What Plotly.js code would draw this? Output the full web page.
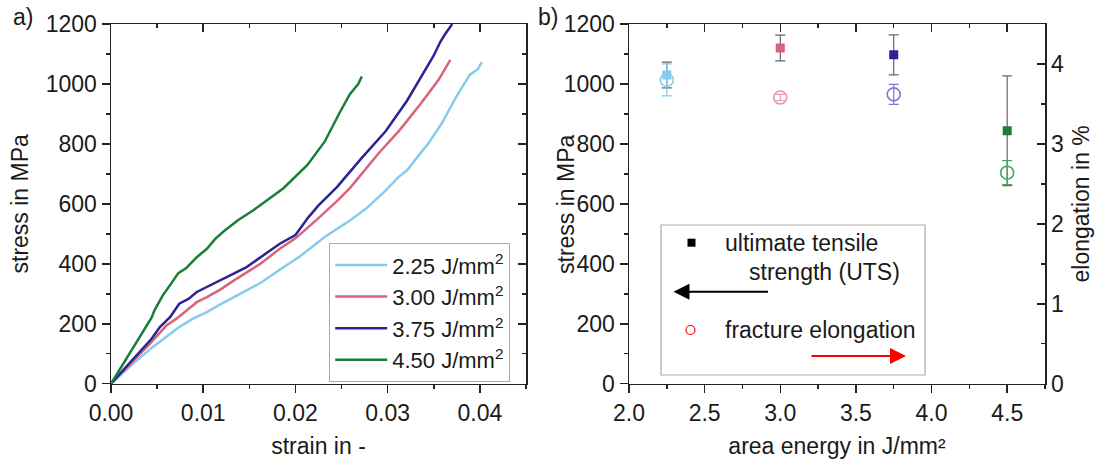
<!DOCTYPE html>
<html>
<head>
<meta charset="utf-8">
<script src="https://cdn.plot.ly/plotly-3.0.1.min.js"></script>
<style>html,body{margin:0;padding:0;background:#fff}#chart{width:1104px;height:459px}</style>
</head>
<body>
<div id="chart"></div>
<script>
// ---- (a) stress-strain curves ----
const strain225 = [0,0.0024,0.0045,0.0060,0.0074,0.0089,0.0104,0.0118,0.0133,0.0147,0.0162,0.0183,0.0205,0.0232,0.0258,0.0277,0.0298,0.0312,0.0321,0.0332,0.0344,0.0359,0.0374,0.0389,0.0398,0.0402];
const stress225 = [0,67,122,158,189,217,239,264,289,313,336,380,425,490,542,585,645,690,712,755,801,870,955,1030,1050,1073];
const strain300 = [0,0.0042,0.0060,0.0071,0.0082,0.0093,0.0104,0.0118,0.0133,0.0147,0.0162,0.0183,0.0200,0.0222,0.0247,0.0260,0.0290,0.0313,0.0336,0.0355,0.0362,0.0368];
const stress300 = [0,133,194,217,244,272,289,313,344,372,400,450,485,544,615,656,768,846,935,1013,1050,1080];
const strain375 = [0,0.0044,0.0053,0.0064,0.0074,0.0084,0.0093,0.0104,0.0118,0.0133,0.0147,0.0162,0.0183,0.0200,0.0214,0.0225,0.0245,0.0271,0.0298,0.0321,0.0343,0.0350,0.0357,0.0362,0.0370];
const stress375 = [0,150,189,222,267,283,306,322,344,367,389,422,467,496,555,595,656,750,843,944,1056,1095,1140,1165,1200];
const strain450 = [0,0.0044,0.0047,0.0056,0.0065,0.0073,0.0082,0.0093,0.0104,0.0113,0.0123,0.0138,0.0154,0.0187,0.0213,0.0232,0.0247,0.0259,0.0268,0.0272];
const stress450 = [0,220,244,294,333,369,387,422,450,483,510,546,578,652,730,809,899,966,1000,1025];
const curveNames = ['2.25 J/mm<sup>2</sup>','3.00 J/mm<sup>2</sup>','3.75 J/mm<sup>2</sup>','4.50 J/mm<sup>2</sup>'];

// ---- (b) UTS and fracture elongation ----
const energy = [2.25, 3.00, 3.75, 4.50];
const uts = [1030, 1120, 1097, 844];
const utsErr = [43, 43, 67, 183];
const elong = [3.80, 3.58, 3.62, 2.64];
const elongErr = [0.20, 0.04, 0.125, 0.15];

const lineColors = ['#86cbee','#d6647a','#2c2492','#1b7d3a'];
const sqColors = ['#86cbee','#d6647a','#2c2492','#1b7d3a'];
const circColors = ['#86cbee','#e596a3','#7e76d2','#46a463'];

const FONT = 'Liberation Sans, Arial, sans-serif';
const FS = 23;
const curves = [[strain225,stress225],[strain300,stress300],[strain375,stress375],[strain450,stress450]];
const traces = [];
curves.forEach((c,i)=>{
  traces.push({x:c[0], y:c[1], type:'scatter', mode:'lines', name:curveNames[i],
    line:{color:lineColors[i], width:2.5}, xaxis:'x', yaxis:'y'});
});
traces.push({x:[], y:[], type:'scatter', xaxis:'x3', yaxis:'y', showlegend:false});
traces.push({x:[], y:[], type:'scatter', xaxis:'x', yaxis:'y3', showlegend:false});
traces.push({x:[], y:[], type:'scatter', xaxis:'x4', yaxis:'y2', showlegend:false});

energy.forEach((e,i)=>{
  traces.push({x:[e], y:[elong[i]], type:'scatter', mode:'markers', showlegend:false,
    xaxis:'x2', yaxis:'y4',
    marker:{symbol:'circle-open', size:13, color:circColors[i], line:{width:1.6, color:circColors[i]}},
    error_y:{type:'data', array:[elongErr[i]], visible:true, color:circColors[i], thickness:1.2, width:5}});
});
energy.forEach((e,i)=>{
  traces.push({x:[e], y:[uts[i]], type:'scatter', mode:'markers', showlegend:false,
    xaxis:'x2', yaxis:'y2',
    marker:{symbol:'square', size:9, color:sqColors[i]},
    error_y:{type:'data', array:[utsErr[i]], visible:true, color:'#666', thickness:1.2, width:5}});
});

const tickFont = {family:FONT, size:FS, color:'#1a1a1a'};
const titleFont = {family:FONT, size:FS, color:'#1a1a1a'};
const axBase = {showgrid:false, zeroline:false, showline:true, linecolor:'#222', linewidth:1.5,
  ticks:'outside', ticklen:8, tickwidth:1.5, tickcolor:'#222', tickfont:tickFont, mirror:true,
  automargin:false};
const yDom = [1-383.7/459, 1-24/459];
const xDomA = [111/1104, 526/1104];
const xDomB = [629/1104, 1045/1104];
const P = (px)=>px/1104, Q = (py)=>1-py/459;

const layout = {
  width:1104, height:459, margin:{l:0,r:0,t:0,b:0}, paper_bgcolor:'#fff', plot_bgcolor:'rgba(0,0,0,0)',
  font:{family:FONT, size:FS, color:'#1a1a1a'},
  showlegend:true,
  legend:{x:P(329), y:Q(243), xanchor:'left', yanchor:'top', bgcolor:'#fff',
    bordercolor:'#aaa', borderwidth:1.2, font:{family:FONT, size:22, color:'#1a1a1a'},
    tracegroupgap:0, itemwidth:52},
  xaxis: Object.assign({}, axBase, {domain:xDomA, range:[0,0.045], dtick:0.01, tick0:0, tickformat:'.2f',
    minor:{dtick:0.005, ticklen:4, ticks:'outside', tickcolor:'#222', tickwidth:1.5},
    anchor:'y', title:{text:'strain in -', font:titleFont, standoff:20}}),
  yaxis: Object.assign({}, axBase, {domain:yDom, range:[0,1200], dtick:200, tick0:0,
    minor:{dtick:100, ticklen:4, ticks:'outside', tickcolor:'#222', tickwidth:1.5},
    anchor:'x', title:{text:'stress in MPa', font:titleFont, standoff:10}}),
  xaxis3: {overlaying:'x', side:'top', anchor:'y', range:[0,0.045], dtick:0.01, tick0:0, showgrid:false, zeroline:false,
    ticks:'inside', ticklen:8, tickwidth:1.5, tickcolor:'#222', showticklabels:false, showline:false,
    minor:{dtick:0.005, ticklen:4, ticks:'inside', tickcolor:'#222', tickwidth:1.5}},
  yaxis3: {overlaying:'y', side:'right', anchor:'x', range:[0,1200], dtick:200, tick0:0, showgrid:false, zeroline:false,
    ticks:'inside', ticklen:8, tickwidth:1.5, tickcolor:'#222', showticklabels:false, showline:false,
    minor:{dtick:100, ticklen:4, ticks:'inside', tickcolor:'#222', tickwidth:1.5}},
  xaxis2: Object.assign({}, axBase, {domain:xDomB, range:[2.0,4.75], dtick:0.5, tick0:2, tickformat:'.1f',
    minor:{dtick:0.25, ticklen:4, ticks:'outside', tickcolor:'#222', tickwidth:1.5},
    anchor:'y2', title:{text:'area energy in J/mm²', font:titleFont, standoff:20}}),
  yaxis2: Object.assign({}, axBase, {domain:yDom, range:[0,1200], dtick:200, tick0:0, mirror:false,
    minor:{dtick:100, ticklen:4, ticks:'outside', tickcolor:'#222', tickwidth:1.5},
    anchor:'x2'}),
  xaxis4: {overlaying:'x2', side:'top', anchor:'y2', range:[2.0,4.75], dtick:0.5, tick0:2, showgrid:false, zeroline:false,
    ticks:'inside', ticklen:8, tickwidth:1.5, tickcolor:'#222', showticklabels:false, showline:true, linecolor:'#222', linewidth:1.5,
    minor:{dtick:0.25, ticklen:4, ticks:'inside', tickcolor:'#222', tickwidth:1.5}},
  yaxis4: Object.assign({}, axBase, {overlaying:'y2', side:'right', anchor:'x2', range:[0,4.5], dtick:1, tick0:0,
    ticks:'inside', mirror:false,
    minor:{dtick:0.5, ticklen:4, ticks:'inside', tickcolor:'#222', tickwidth:1.5},
    title:{text:'elongation in %', font:titleFont, standoff:10}}),
  shapes:[
    {type:'rect', xref:'paper', yref:'paper', x0:P(661), x1:P(925), y0:Q(375), y1:Q(225),
      line:{color:'#aaa', width:1.2}, fillcolor:'rgba(255,255,255,0)'},
    {type:'rect', xref:'paper', yref:'paper', x0:P(687.5), x1:P(695.5), y0:Q(246.7), y1:Q(238.7),
      line:{color:'#000', width:0}, fillcolor:'#000'},
    {type:'circle', xref:'paper', yref:'paper', x0:P(686), x1:P(695), y0:Q(334.5), y1:Q(325.5),
      line:{color:'#f00', width:1.2}}
  ],
  annotations:[
    {text:'a)', xref:'paper', yref:'paper', x:P(11), y:Q(17), xanchor:'left', yanchor:'middle', showarrow:false, font:titleFont},
    {text:'b)', xref:'paper', yref:'paper', x:P(536), y:Q(17), xanchor:'left', yanchor:'middle', showarrow:false, font:titleFont},
    {text:'stress in MPa', xref:'paper', yref:'paper', x:P(566), y:Q(204), xanchor:'center', yanchor:'middle', textangle:-90, showarrow:false, font:titleFont},
    {text:'ultimate tensile', xref:'paper', yref:'paper', x:P(723), y:Q(242.7), xanchor:'left', yanchor:'middle', showarrow:false, font:titleFont},
    {text:'strength (UTS)', xref:'paper', yref:'paper', x:P(747), y:Q(271.7), xanchor:'left', yanchor:'middle', showarrow:false, font:titleFont},
    {text:'fracture elongation', xref:'paper', yref:'paper', x:P(723), y:Q(330), xanchor:'left', yanchor:'middle', showarrow:false, font:titleFont},
    {text:'', xref:'paper', yref:'paper', x:P(673.5), y:Q(291.7), ax:96, ay:0, showarrow:true,
      arrowhead:2, arrowsize:1.6, arrowwidth:2, arrowcolor:'#000'},
    {text:'', xref:'paper', yref:'paper', x:P(906), y:Q(356), ax:-96, ay:0, showarrow:true,
      arrowhead:2, arrowsize:1.6, arrowwidth:2, arrowcolor:'#f00'}
  ]
};
Plotly.newPlot('chart', traces, layout, {displayModeBar:false, staticPlot:true});
</script>
</body>
</html>
